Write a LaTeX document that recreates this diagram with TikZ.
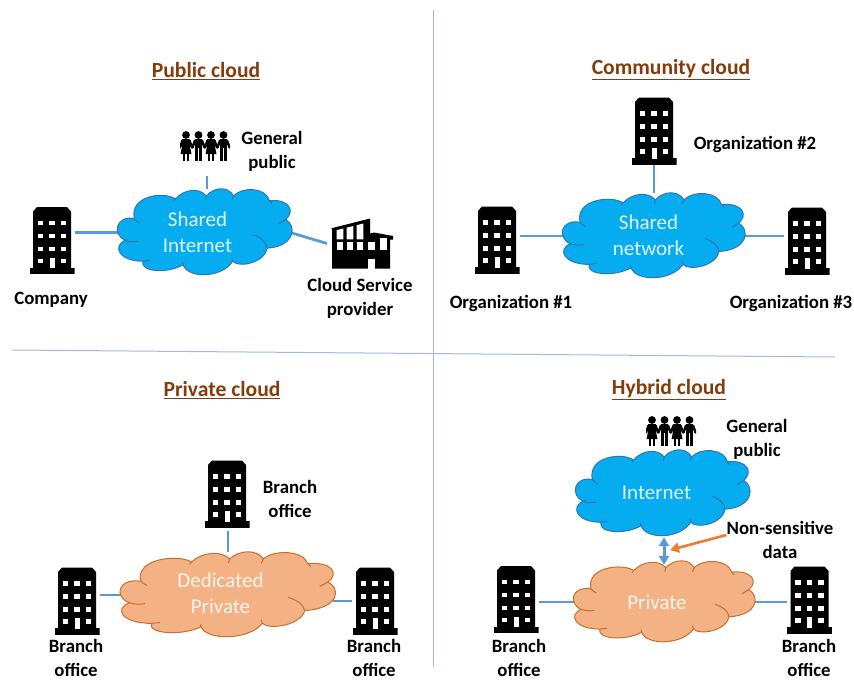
\documentclass[tikz,border=0pt]{standalone}
\usepackage{fontspec}
\setmainfont{Carlito}
\usetikzlibrary{arrows.meta,backgrounds}

\definecolor{linkblue}{HTML}{5B9BD5}
\definecolor{rulecol}{HTML}{A3BAE0}
\definecolor{cloudblue}{HTML}{05ADF0}
\definecolor{cloudedge}{HTML}{2E75B6}
\definecolor{cloudorange}{HTML}{F4B183}
\definecolor{orangeedge}{HTML}{C5702F}
\definecolor{notearrow}{HTML}{ED7D31}
\definecolor{titlecol}{HTML}{843C0C}

\tikzset{
    link/.style={linkblue, line width=2.8pt},
    rulerline/.style={rulecol, line width=1pt},
    bluecloud/.style={draw=cloudedge, fill=cloudblue, line width=1pt},
    orangecloud/.style={draw=orangeedge, fill=cloudorange, line width=1pt},
    cloudbox/.style={inner sep=0pt},
    cloudtext/.style={text=white, text opacity=0.88, align=center, font=\fontsize{21}{26}\selectfont},
    heading/.style={inner sep=0pt, yshift=-2pt, font=\fontsize{21.6}{24}\bfseries\selectfont, text=titlecol},
    tag/.style={inner sep=0pt, yshift=-2pt, align=center, font=\fontsize{18.8}{24}\bfseries\selectfont},
    building/.style={minimum width=45pt, minimum height=67pt, inner sep=0pt, path picture={
        \begin{scope}[shift={(path picture bounding box.center)}]
            \fill (-19,28) -- (-19,-29) -- (-15,-33.5) -- (15,-33.5) -- (19,-29) -- (19,28) -- cycle;
            \fill (-22.5,27) rectangle (22.5,33.5);
            \foreach \wy in {-17.5,-4.5,8.5}
                \foreach \wx in {-11.5,0,11.5}
                    \fill [white] (\wx-2.6,\wy-2.4) rectangle (\wx+2.6,\wy+2.4);
            \fill [white] (-14.1,18.1) rectangle (-8.9,22.9);
            \fill [white] (8.9,18.1) rectangle (14.1,22.9);
            \fill [white] (-2.5,17) rectangle (2.5,27.5);
        \end{scope}}},
    factory/.style={minimum width=62pt, minimum height=50pt, inner sep=0pt, outer sep=4pt, path picture={
        \begin{scope}[shift={(path picture bounding box.center)}]
            \fill (-30,25) -- (-30,-15) -- (-31.5,-15) -- (8,-25) -- (8,-10) -- (12,-11)
                -- (31,-7.5) -- (31,-4) -- (28,-4) -- (28,25) -- cycle;
            % Upper windows
            \fill [white] (-25.3,-13.3) -- (-18.7,-15) -- (-18.7,-4.2) -- (-25.3,-4.2) -- cycle;
            \fill [white] (-15.3,-15.8) -- (-8.7,-17.5) -- (-8.7,-4.2) -- (-15.3,-4.2) -- cycle;
            \fill [white] (-5.3,-18.3) -- (1.3,-20) -- (1.3,-4.2) -- (-5.3,-4.2) -- cycle;
            \fill [white] (18,-6) rectangle (24.7,6.5);
            % Lower windows and door
            \foreach \wx in {-25.3,-15.3,-5.3,6.3}
                \fill [white] (\wx,-1.8) rectangle (\wx+6.6,6.5);
            \fill [white] (6.3,15) rectangle (13,25);
        \end{scope}}},
    crowd/.style={minimum width=50pt, minimum height=30pt, inner sep=0pt, path picture={
        \begin{scope}[shift={(path picture bounding box.center)}]
            \foreach \px/\dress in {-19/1,-6.5/0,6/1,18.5/0} {
                \fill (\px,-11) circle [radius=3.9];
                \draw [line width=2.4pt, line cap=round] (\px-3.5,-5.5) -- (\px-6,1.5);
                \draw [line width=2.4pt, line cap=round] (\px+3.5,-5.5) -- (\px+6,1.5);
                \fill (\px-3.8,-7) rectangle (\px+3.8,2);
                \ifnum\dress=1
                    \fill (\px-3.8,0) -- (\px+3.8,0) -- (\px+5.5,8) -- (\px-5.5,8) -- cycle;
                    \fill (\px-3.4,7) rectangle (\px-0.6,15);
                    \fill (\px+0.6,7) rectangle (\px+3.4,15);
                \else
                    \fill (\px-3.6,1) rectangle (\px-0.4,15);
                    \fill (\px+0.4,1) rectangle (\px+3.6,15);
                \fi
            }
        \end{scope}}}
}

% Outline of a cloud in a 100 by 100 box
\newcommand{\puffcloud}[5]{
    \begin{scope}[shift={(#1,#2)}, xscale=#3/100, yscale=#4/100]
        \draw [#5] (3.5,59) .. controls (-4,52) and (-2,30) .. (9,34)
            .. controls (6,8) and (26,2) .. (33,11.5)
            .. controls (38,0) and (47,-2) .. (51,8)
            .. controls (56,-3) and (64,-3) .. (67,8)
            .. controls (72,-3) and (86,-2) .. (88,13.5)
            .. controls (100,11) and (103,26) .. (97.5,35)
            .. controls (104,42) and (103,66) .. (86.6,68)
            .. controls (85,85) and (70,91) .. (66.5,83)
            .. controls (60,103) and (40,103) .. (37.5,87)
            .. controls (28,98) and (12,95) .. (14,83)
            .. controls (0,83) and (-4,66) .. cycle;
        % Creases
        \draw [#5, fill=none] (3.5,59) .. controls (6,61) and (9,61) .. (11,60);
        \draw [#5, fill=none] (9,34) .. controls (9.5,36) and (11,38) .. (12,39);
        \draw [#5, fill=none] (33,11.5) -- (32,14);
        \draw [#5, fill=none] (51,8) -- (50.5,13);
        \draw [#5, fill=none] (67,8) -- (66,13);
        \draw [#5, fill=none] (88,13.5) -- (89.5,17);
        \draw [#5, fill=none] (97.5,35) -- (93.7,40);
        \draw [#5, fill=none] (86.6,68) .. controls (86,60) and (82,55) .. (78.7,52.7);
        \draw [#5, fill=none] (66.5,83) -- (66,79);
        \draw [#5, fill=none] (37.5,87) -- (37,84);
        \draw [#5, fill=none] (14,83) -- (18,82);
    \end{scope}
}

\begin{document}
\begin{tikzpicture}[x=1pt, y=-1pt]
    \useasboundingbox (0,0) rectangle (854,680);

    % Dividers
    \coordinate (vtop) at (433,10);
    \coordinate (vbottom) at (433,667);
    \coordinate (hleft) at (12,350);
    \coordinate (hright) at (835,357);
    \draw [rulerline] (vtop) -- (vbottom);
    \draw [rulerline] (hleft) -- (hright);

    % Public cloud
    \node [heading] (publictitle) at (206,69) {\underline{Public cloud}};
    \node [crowd] (publiccrowd) at (205,146) {};
    \node [tag] (publiclabel) at (272,149) {General\\public};
    \node [building] (company) at (52,240.5) {};
    \node [tag] (companylabel) at (51,298) {Company};
    \node [factory] (provider) at (362,243.5) {};
    \node [tag] (providerlabel) at (360,296.5) {Cloud Service\\provider};
    \puffcloud{119}{189}{171}{87}{bluecloud}
    \node [cloudbox, minimum width=171pt, minimum height=87pt,
        label={[cloudtext, xshift=-7pt]center:{Shared\\Internet}}] (sharedinternet) at (204.5,232.5) {};
    \coordinate (publicfoot) at (207,176);

    % Community cloud
    \node [heading] (communitytitle) at (671,68) {\underline{Community cloud}};
    \node [building] (orgtwo) at (654,131) {};
    \node [tag] (orgtwolabel) at (755,142) {Organization \#2};
    \node [building] (orgone) at (497,240) {};
    \node [tag] (orgonelabel) at (511,301) {Organization \#1};
    \node [building] (orgthree) at (807,241) {};
    \node [tag] (orgthreelabel) at (791,301) {Organization \#3};
    \puffcloud{564}{193}{179}{86}{bluecloud}
    \node [cloudbox, minimum width=179pt, minimum height=86pt,
        label={[cloudtext, xshift=-5pt, yshift=1pt]center:{Shared\\network}}] (sharednetwork) at (653.5,236) {};

    % Private cloud
    \node [heading] (privatetitle) at (222,388) {\underline{Private cloud}};
    \node [building] (branchtop) at (227,494) {};
    \node [tag] (branchtoplabel) at (290,497) {Branch\\office};
    \node [building] (branchleft) at (77,601) {};
    \node [tag] (branchleftlabel) at (76,656) {Branch\\office};
    \node [building] (branchright) at (375,601) {};
    \node [tag] (branchrightlabel) at (374,656) {Branch\\office};
    \puffcloud{122}{552}{211}{86}{orangecloud}
    \node [cloudbox, minimum width=211pt, minimum height=86pt,
        label={[cloudtext, xshift=-7pt, yshift=2pt]center:{Dedicated\\Private}}] (dedicated) at (227.5,595) {};
    \coordinate (branchtopfoot) at (228,531);

    % Hybrid cloud
    \node [heading] (hybridtitle) at (669,388) {\underline{Hybrid cloud}};
    \node [crowd] (hybridcrowd) at (671,431) {};
    \node [tag] (hybridlabel) at (757,437.5) {General\\public};
    \puffcloud{577}{450}{171}{87}{bluecloud}
    \node [cloudbox, minimum width=171pt, minimum height=87pt,
        label={[cloudtext, xshift=-6pt, yshift=1pt]center:{Internet}}] (internet) at (662.5,493.5) {};
    \puffcloud{575}{561}{178}{82}{orangecloud}
    \node [cloudbox, minimum width=178pt, minimum height=82pt,
        label={[cloudtext, xshift=-7pt]center:{Private}}] (private) at (664,602) {};
    \node [building] (hybridleft) at (516,599.5) {};
    \node [tag] (hybridleftlabel) at (519,656) {Branch\\office};
    \node [building] (hybridright) at (809.5,600) {};
    \node [tag] (hybridrightlabel) at (809,656) {Branch\\office};
    \node [tag] (datalabel) at (780,538) {Non-sensitive\\data};
    \coordinate (datatip) at (670,550);

    % Connectors
    \begin{scope}[on background layer]
        \draw [link] (publicfoot) -- (publicfoot |- sharedinternet.north);
        \draw [link] (company.east |- sharedinternet.west) -- (sharedinternet.west);
        \draw [link] (sharedinternet.east) -- (provider.west);
        \draw [link] (orgtwo.south) -- (orgtwo.south |- sharednetwork.north);
        \draw [link] (orgone.east |- sharednetwork.west) -- (sharednetwork.west);
        \draw [link] (sharednetwork.east) -- (orgthree.west |- sharednetwork.east);
        \draw [link] (branchtopfoot) -- (branchtopfoot |- dedicated.north);
        \draw [link] (branchleft.east |- dedicated.west) -- (dedicated.west);
        \draw [link] (dedicated.east |- branchright.west) -- (branchright.west);
        \draw [link] (hybridleft.east |- private.west) -- (private.west);
        \draw [link] (private.east) -- (hybridright.west |- private.east);
    \end{scope}
    \draw [linkblue, line width=3pt, {Triangle[length=9pt,width=10pt]}-{Triangle[length=9pt,width=10pt]}]
        (private.north |- internet.south) -- ([yshift=-4pt]private.north);
    \draw [notearrow, line width=2.6pt, -{Triangle[length=9pt,width=10pt]}]
        ([yshift=5pt]datalabel.west) -- (datatip);
\end{tikzpicture}
\end{document}
